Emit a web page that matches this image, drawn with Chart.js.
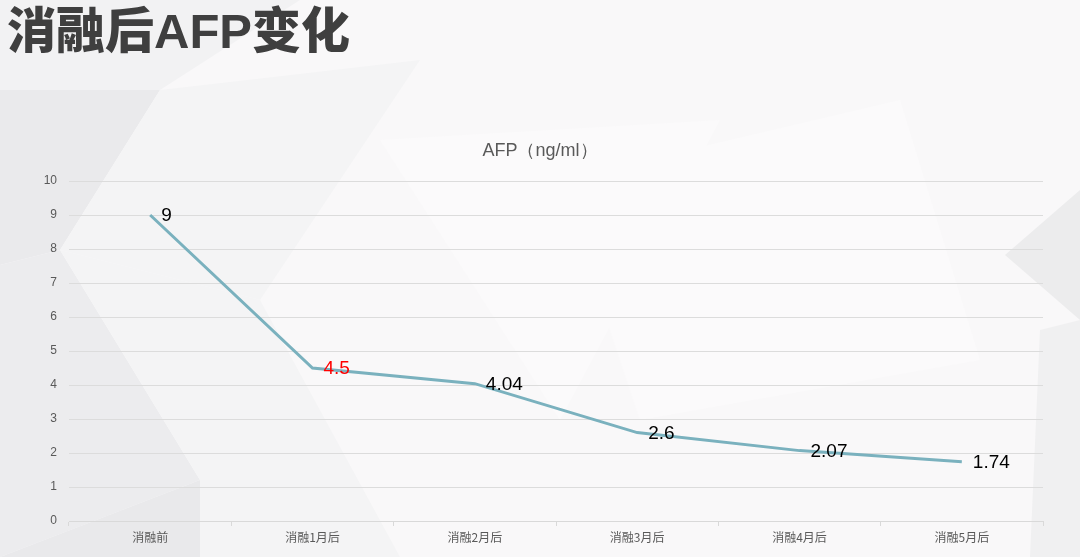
<!DOCTYPE html>
<html>
<head>
<meta charset="utf-8">
<script src="https://cdn.jsdelivr.net/npm/chart.js@4/dist/chart.umd.min.js"></script>
<style>
  html, body { margin: 0; padding: 0; }
  body { width: 1080px; height: 557px; position: relative; overflow: hidden; background: #f9f8f9; }
  #bg { position: absolute; left: 0; top: 0; }
  #heading {
    position: absolute; left: 7px; top: 1px;
    font-family: "Liberation Sans", "Noto Sans CJK SC", sans-serif; font-weight: 900;
    font-size: 49px; line-height: 60px; color: #3f3f3f;
  }
  #wrap { position: absolute; left: 0; top: 0; width: 1080px; height: 557px; }
</style>
</head>
<body>
<!-- decoracao de fundo (poligonos cinza claros) -->
<svg id="bg" width="1080" height="557">
  <polygon points="0,0 300,0 160,90 0,110" fill="#f2f2f3"/>
  <polygon points="0,90 160,90 60,250 0,265" fill="#eaeaec"/>
  <polygon points="160,90 420,60 260,300 60,250" fill="#f4f4f5"/>
  <polygon points="0,265 60,250 200,480 0,557" fill="#ececee"/>
  <polygon points="60,250 260,300 400,557 200,557 200,480" fill="#f4f4f5"/>
  <polygon points="0,557 200,480 200,557" fill="#e9e9eb"/>
  <polygon points="380,140 720,120 560,420" fill="#fbfafb"/>
  <polygon points="560,180 900,100 980,360 640,420" fill="#fbfafb"/>
  <polygon points="1005,255 1080,190 1080,320" fill="#ececed"/>
  <polygon points="1040,330 1080,320 1080,557 1030,557" fill="#f0f0f1"/>
</svg>
<div id="heading">消融后AFP变化</div>
<div id="wrap"><canvas id="grafico"></canvas></div>
<script>
// dados do grafico
const categorias = ['消融前', '消融1月后', '消融2月后', '消融3月后', '消融4月后', '消融5月后'];
const valoresAFP = [9, 4.5, 4.04, 2.6, 2.07, 1.74];
const ticksY = [0, 1, 2, 3, 4, 5, 6, 7, 8, 9, 10];
const tituloGrafico = 'AFP（ng/ml）';
const destaque = 1; // rotulo em vermelho

// titulo centralizado na pagina + rotulos de valor a direita de cada ponto
const rotulos = {
    id: 'rotulos',
    afterDatasetsDraw(chart) {
        const c = chart.ctx;
        const meta = chart.getDatasetMeta(0);
        c.save();
        c.font = '18px "Liberation Sans", Arial, sans-serif';
        c.textBaseline = 'middle';
        c.textAlign = 'center';
        c.fillStyle = '#595959';
        c.fillText(tituloGrafico, chart.width / 2, 151);

        c.font = '19px "Liberation Sans", Arial, sans-serif';
        c.textAlign = 'left';
        meta.data.forEach((pt, i) => {
            c.fillStyle = i === destaque ? '#ff0000' : '#000000';
            c.fillText(String(valoresAFP[i]), pt.x + 11, pt.y + 1);
        });
        c.restore();
    }
};

const ctx = document.getElementById('grafico');

new Chart(ctx, {
    type: 'line',
    data: {
        labels: categorias,
        datasets: [{
            label: 'AFP',
            data: valoresAFP,
            borderColor: '#7ab1be',
            borderWidth: 3,
            pointRadius: 0,
            tension: 0
        }]
    },
    options: {
        responsive: true,
        maintainAspectRatio: false,
        animation: false,
        layout: { padding: { top: 181, right: 37, left: 0, bottom: 0 } },
        plugins: {
            legend: { display: false },
            tooltip: { enabled: false },
            title: { display: false }
        },
        scales: {
            x: {
                offset: true,
                grid: {
                    display: true,
                    offset: true,
                    drawOnChartArea: false,
                    drawTicks: true,
                    tickLength: 5,
                    color: '#d9d9d9'
                },
                border: { color: '#d9d9d9' },
                ticks: {
                    color: '#595959',
                    padding: 4,
                    font: { family: '"Noto Sans CJK SC", sans-serif', size: 12 }
                },
                afterFit(scale) { scale.height = 36; }
            },
            y: {
                min: 0,
                max: 10,
                afterBuildTicks(scale) { scale.ticks = ticksY.map(v => ({ value: v })); },
                grid: { color: '#dcdcdc', drawTicks: false },
                border: { display: false },
                ticks: {
                    color: '#595959',
                    padding: 12,
                    font: { family: '"Liberation Sans", Arial, sans-serif', size: 12 }
                },
                afterFit(scale) { scale.width = 69; }
            }
        }
    },
    plugins: [rotulos]
});
</script>
</body>
</html>
